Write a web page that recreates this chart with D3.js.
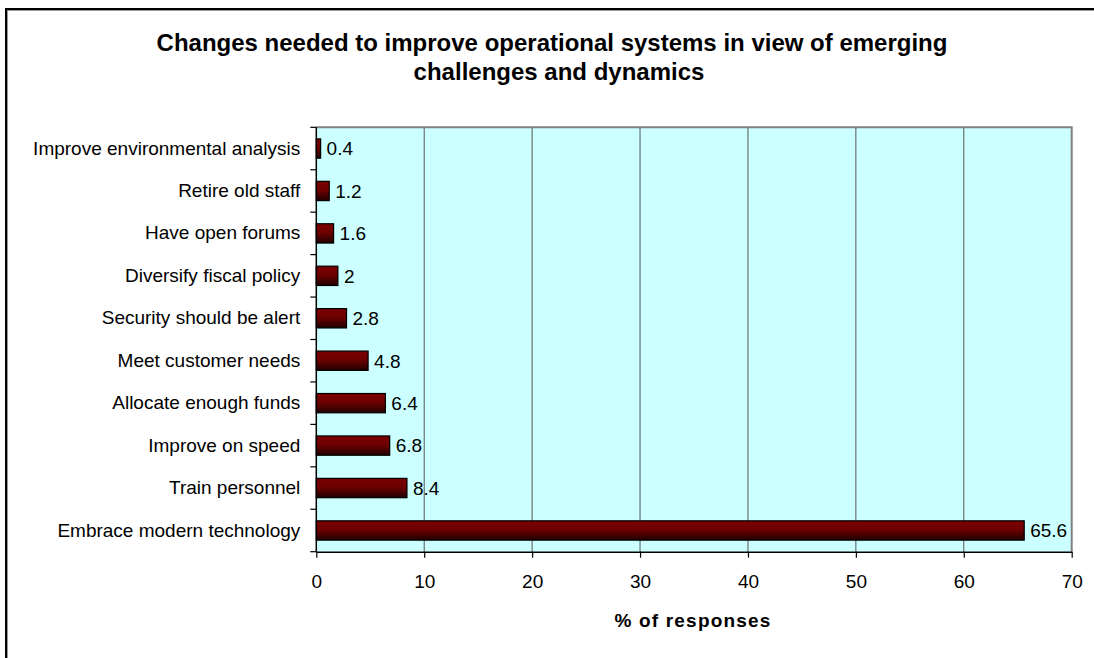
<!DOCTYPE html>
<html><head><meta charset="utf-8">
<script src="https://cdn.jsdelivr.net/npm/d3@7"></script>
<style>body{margin:0;background:#fff}svg{display:block;font-family:Arial,"Liberation Sans",sans-serif}</style>
</head><body>
<svg id="c" width="1094" height="658"></svg>
<script>
const categories = ["Improve environmental analysis","Retire old staff","Have open forums","Diversify fiscal policy","Security should be alert","Meet customer needs","Allocate enough funds","Improve on speed","Train personnel","Embrace modern technology"];
const values = [0.4,1.2,1.6,2,2.8,4.8,6.4,6.8,8.4,65.6];
const valueLabels = ["0.4","1.2","1.6","2","2.8","4.8","6.4","6.8","8.4","65.6"];
const xTicks = [0,10,20,30,40,50,60,70];
const titleLines = ["Changes needed to improve operational systems in view of emerging","challenges and dynamics"];
const xTitle = "% of responses";

const FONT = "Arial, 'Liberation Sans', sans-serif";
const svg = d3.select("#c");
const m = {left:316.3, right:1071.7, top:127.3, bottom:551.7};

// outer frame
svg.append("rect").attr("x",7).attr("y",10).attr("width",1100).attr("height",700).attr("fill","none").attr("stroke","#999").attr("stroke-width",2);
svg.append("rect").attr("x",6).attr("y",9).attr("width",1100).attr("height",700).attr("fill","none").attr("stroke","#000").attr("stroke-width",2);

const defs = svg.append("defs");
const g = defs.append("linearGradient").attr("id","bg").attr("x1",0).attr("y1",0).attr("x2",0).attr("y2",1);
g.append("stop").attr("offset","0%").attr("stop-color","#7a0000");
g.append("stop").attr("offset","45%").attr("stop-color","#6e0000");
g.append("stop").attr("offset","100%").attr("stop-color","#200000");

const x = d3.scaleLinear().domain([0,70]).range([m.left,m.right]);
const y = d3.scaleBand().domain(categories).range([m.top,m.bottom]).paddingInner(0.545).paddingOuter(0.2725);

svg.append("rect").attr("x",m.left).attr("y",m.top).attr("width",m.right-m.left).attr("height",m.bottom-m.top).attr("fill","#ccffff");

// gridlines
svg.append("g").selectAll("line").data(xTicks.slice(1,-1)).join("line")
  .attr("x1",d=>x(d)).attr("x2",d=>x(d)).attr("y1",m.top).attr("y2",m.bottom)
  .attr("stroke","#555").attr("stroke-width",1);

// plot border top/right
svg.append("path").attr("d",`M${m.left},${m.top}H${m.right}V${m.bottom}`).attr("fill","none").attr("stroke","#808080").attr("stroke-width",2);

// bars
svg.append("g").selectAll("rect").data(values).join("rect")
  .attr("x",x(0)).attr("y",(d,i)=>y(categories[i]))
  .attr("width",d=>x(d)-x(0)).attr("height",y.bandwidth())
  .attr("fill","url(#bg)").attr("stroke","#000").attr("stroke-width",1.2);

// value labels
svg.append("g").selectAll("text").data(values).join("text")
  .attr("x",d=>x(d)+6).attr("y",(d,i)=>y(categories[i])+y.bandwidth()/2)
  .attr("dy","0.36em").attr("font-size",19).attr("fill","#000")
  .text((d,i)=>valueLabels[i]);

// y axis
const ya = svg.append("g").attr("transform",`translate(${m.left},0)`)
  .call(d3.axisLeft(y).tickSize(0).tickPadding(16));
ya.select(".domain").remove();
ya.selectAll("text").attr("font-size",19).attr("font-family",FONT).attr("fill","#000");
// category separator ticks
const bounds = d3.range(categories.length+1).map(i=>m.top + i*(m.bottom-m.top)/categories.length);
svg.append("g").selectAll("line").data(bounds).join("line")
  .attr("x1",m.left-6).attr("x2",m.left).attr("y1",d=>d).attr("y2",d=>d).attr("stroke","#000").attr("stroke-width",1.2);
svg.append("line").attr("x1",m.left).attr("x2",m.left).attr("y1",m.top).attr("y2",m.bottom).attr("stroke","#000").attr("stroke-width",1.5);

// x axis
const xa = svg.append("g").attr("transform",`translate(0,${m.bottom})`)
  .call(d3.axisBottom(x).tickValues(xTicks).tickSize(6).tickPadding(17).tickSizeOuter(0));
xa.select(".domain").attr("stroke","#000").attr("stroke-width",1.5);
xa.selectAll(".tick line").attr("stroke","#000").attr("stroke-width",1.2);
xa.selectAll("text").attr("font-size",19).attr("font-family",FONT).attr("fill","#000");

// titles
const titleX = [552, 559];
svg.append("g").selectAll("text").data(titleLines).join("text")
  .attr("x",(d,i)=>titleX[i]).attr("y",(d,i)=>51+i*29).attr("text-anchor","middle")
  .attr("font-size",24).attr("font-weight","bold").text(d=>d);
svg.append("text").attr("x",693).attr("y",627).attr("text-anchor","middle")
  .attr("font-size",19).attr("font-weight","bold").attr("letter-spacing","1.2").text(xTitle);
</script>
</body></html>
